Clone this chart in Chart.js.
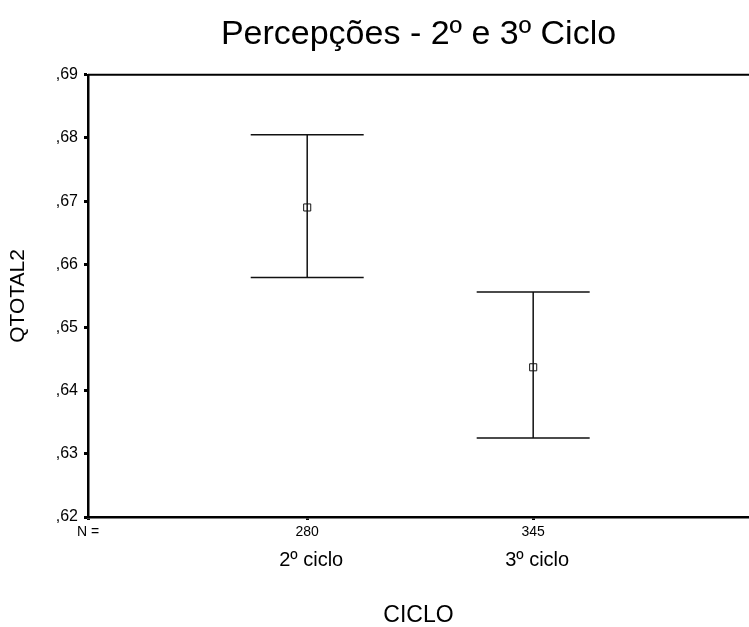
<!DOCTYPE html>
<html>
<head>
<meta charset="utf-8">
<script src="https://cdn.jsdelivr.net/npm/chart.js@4"></script>
<style>
  html, body { margin: 0; padding: 0; background: #fff; overflow: hidden; }
  #chart { display: block; }
</style>
</head>
<body>
<canvas id="chart" width="749" height="627"></canvas>
<script>
// data
const categories = ['2º ciclo', '3º ciclo'];
const nCounts = ['280', '345'];
const means = [0.6690, 0.6437];
const lowers = [0.6579, 0.6325];
const uppers = [0.6805, 0.6556];
const yTicks = [0.62, 0.63, 0.64, 0.65, 0.66, 0.67, 0.68, 0.69];

const FONT = '"Liberation Sans", Arial, Helvetica, sans-serif';
const X_MIN = 0.03;
const X_MAX = 2.955;
const CAP = 0.25;

// comma decimal, no leading zero: ,65
const fmtTick = v => ',' + v.toFixed(2).slice(2);

const noSidePad = s => { s.paddingLeft = 0; s.paddingRight = 0; };

const errorBars = {
  id: 'errorBars',
  beforeDatasetsDraw(chart) {
    const { ctx, scales: { x, y } } = chart;
    ctx.save();
    ctx.strokeStyle = '#111';
    ctx.lineWidth = 1.5;
    means.forEach((m, i) => {
      const cx = x.getPixelForValue(i + 1);
      const l = x.getPixelForValue(i + 1 - CAP);
      const r = x.getPixelForValue(i + 1 + CAP);
      const yt = y.getPixelForValue(uppers[i]);
      const yb = y.getPixelForValue(lowers[i]);
      ctx.beginPath();
      ctx.moveTo(l, yt); ctx.lineTo(r, yt);
      ctx.moveTo(l, yb); ctx.lineTo(r, yb);
      ctx.moveTo(cx, yt); ctx.lineTo(cx, yb);
      ctx.stroke();
    });
    ctx.restore();
  },
  afterDraw(chart) {
    // frame line along the top of the plot
    const { ctx, chartArea: a } = chart;
    ctx.save();
    ctx.strokeStyle = '#000';
    ctx.lineWidth = 2;
    ctx.beginPath();
    ctx.moveTo(a.left, a.top);
    ctx.lineTo(a.right, a.top);
    ctx.stroke();
    ctx.restore();
  }
};

new Chart(document.getElementById('chart'), {
  type: 'scatter',
  data: {
    datasets: [{
      data: means.map((m, i) => ({ x: i + 1, y: m })),
      pointStyle: 'rect',
      pointRadius: 5,
      pointBorderWidth: 1,
      pointBorderColor: '#111',
      pointBackgroundColor: 'rgba(0,0,0,0)',
    }],
  },
  options: {
    responsive: false,
    devicePixelRatio: 1,
    animation: false,
    layout: { padding: 0, autoPadding: false },
    plugins: {
      legend: { display: false },
      tooltip: { enabled: false },
      title: {
        display: true,
        text: 'Percepções - 2º e 3º Ciclo',
        fullSize: false,
        color: '#000',
        font: { family: FONT, size: 34, weight: 'normal' },
        padding: { top: 14, bottom: 20 },
      },
    },
    scales: {
      y: {
        min: 0.62,
        max: 0.69,
        afterBuildTicks: s => { s.ticks = yTicks.map(v => ({ value: v })); },
        afterFit: s => { s.width = 88; },
        ticks: {
          color: '#000',
          padding: 6,
          font: { family: FONT, size: 16 },
          callback: v => fmtTick(v),
        },
        grid: { drawOnChartArea: false, tickLength: 4, tickWidth: 3, color: '#000' },
        border: { color: '#000', width: 2.5 },
        title: {
          display: true,
          text: 'QTOTAL2',
          color: '#000',
          font: { family: FONT, size: 21 },
          padding: { top: 6 },
        },
      },
      x: {
        type: 'linear',
        position: 'bottom',
        weight: 0,
        min: X_MIN,
        max: X_MAX,
        afterBuildTicks: s => { s.ticks = [{ value: X_MIN }, { value: 1 }, { value: 2 }]; },
        afterFit: s => { s.height = 24; noSidePad(s); },
        ticks: {
          color: '#000',
          padding: 4,
          maxRotation: 0,
          font: { family: FONT, size: 14 },
          callback: (v, i) => (i === 0 ? 'N =' : nCounts[i - 1]),
        },
        grid: { drawOnChartArea: false, tickLength: 3, tickWidth: 3, color: '#000' },
        border: { color: '#000', width: 2.5 },
      },
      x2: {
        type: 'linear',
        position: 'bottom',
        weight: 1,
        min: X_MIN,
        max: X_MAX,
        afterBuildTicks: s => { s.ticks = categories.map((c, i) => ({ value: i + 1 })); },
        afterFit: s => { s.height = 627 - 517 - 24; noSidePad(s); },
        ticks: {
          color: '#000',
          padding: 7,
          labelOffset: 4,
          maxRotation: 0,
          font: { family: FONT, size: 20 },
          callback: (v, i) => categories[i],
        },
        grid: { display: false, drawTicks: false },
        border: { display: false },
        title: {
          display: true,
          text: 'CICLO',
          color: '#000',
          font: { family: FONT, size: 23, lineHeight: 1 },
          padding: { bottom: 0 },
        },
      },
    },
  },
  plugins: [errorBars],
});
</script>
</body>
</html>
